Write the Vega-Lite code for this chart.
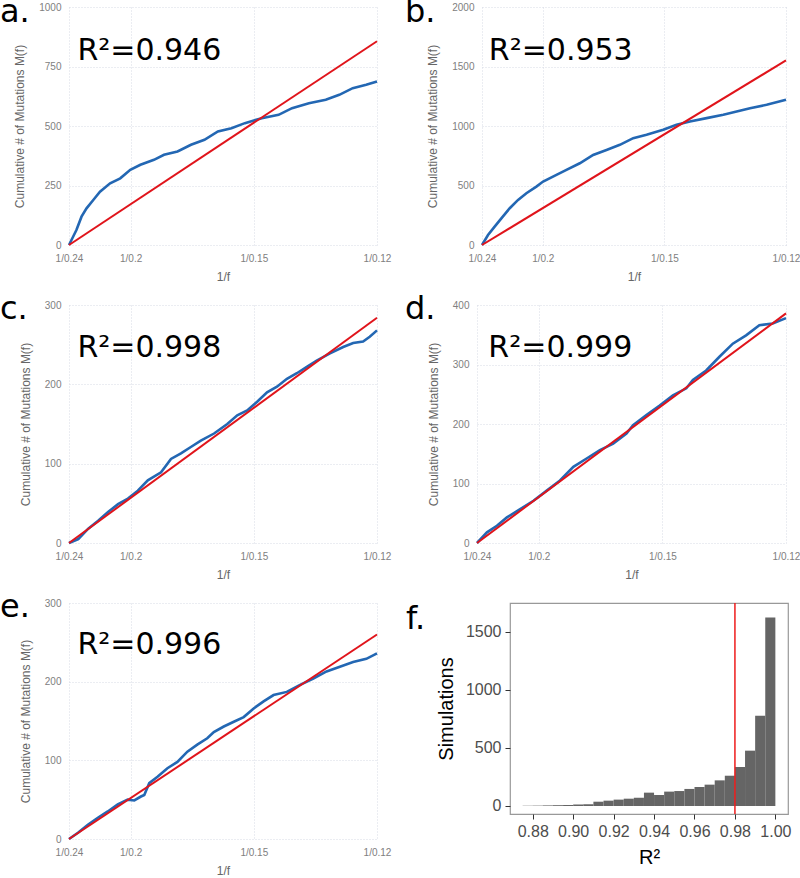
{
  "$schema": "https://vega.github.io/schema/vega-lite/v6.json",
  "padding": {"left": 0, "top": -4, "right": 0, "bottom": 0},
  "background": "white",
  "spacing": 11,
  "config": {
    "view": {"stroke": null},
    "axis": {
      "labelFont": "Liberation Sans", "labelFontSize": 10, "labelColor": "#808080",
      "titleFont": "Liberation Sans", "titleFontSize": 12, "titleColor": "#666666", "titleFontWeight": "normal",
      "domain": false, "ticks": false, "gridColor": "#d3d6e2", "gridDash": [1, 2], "gridWidth": 0.9,
      "labelPadding": 8, "titlePadding": 8, "labelFlush": false
    },
    "axisY": {"titlePadding": 12},
    "text": {"font": "DejaVu Sans", "fontSize": 30, "align": "left", "baseline": "alphabetic", "color": "black"},
    "title": {"font": "DejaVu Sans", "fontSize": 32, "fontWeight": "normal", "color": "black", "anchor": "start", "frame": "group", "baseline": "alphabetic"}
  },
  "datasets": {
    "a_obs": [
      {"inv_f": 4.1667, "mutations": 0}, {"inv_f": 4.267, "mutations": 63}, {"inv_f": 4.336, "mutations": 119},
      {"inv_f": 4.404, "mutations": 154}, {"inv_f": 4.495, "mutations": 189}, {"inv_f": 4.586, "mutations": 224},
      {"inv_f": 4.723, "mutations": 259}, {"inv_f": 4.860, "mutations": 280}, {"inv_f": 4.996, "mutations": 316},
      {"inv_f": 5.133, "mutations": 337}, {"inv_f": 5.316, "mutations": 358}, {"inv_f": 5.452, "mutations": 379},
      {"inv_f": 5.635, "mutations": 393}, {"inv_f": 5.817, "mutations": 421}, {"inv_f": 5.999, "mutations": 442},
      {"inv_f": 6.181, "mutations": 477}, {"inv_f": 6.364, "mutations": 491}, {"inv_f": 6.546, "mutations": 512},
      {"inv_f": 6.774, "mutations": 533}, {"inv_f": 7.002, "mutations": 547}, {"inv_f": 7.184, "mutations": 575},
      {"inv_f": 7.412, "mutations": 596}, {"inv_f": 7.640, "mutations": 610}, {"inv_f": 7.823, "mutations": 631},
      {"inv_f": 8.005, "mutations": 659}, {"inv_f": 8.187, "mutations": 673}, {"inv_f": 8.3333, "mutations": 687}
    ],
    "a_fit": [{"inv_f": 4.1667, "mutations": 0}, {"inv_f": 8.3333, "mutations": 856}],
    "b_obs": [
      {"inv_f": 4.1667, "mutations": 0}, {"inv_f": 4.249, "mutations": 84}, {"inv_f": 4.340, "mutations": 154},
      {"inv_f": 4.432, "mutations": 224}, {"inv_f": 4.547, "mutations": 309}, {"inv_f": 4.661, "mutations": 379},
      {"inv_f": 4.775, "mutations": 435}, {"inv_f": 4.912, "mutations": 491}, {"inv_f": 5.004, "mutations": 533},
      {"inv_f": 5.187, "mutations": 589}, {"inv_f": 5.324, "mutations": 631}, {"inv_f": 5.507, "mutations": 687},
      {"inv_f": 5.690, "mutations": 757}, {"inv_f": 5.873, "mutations": 799}, {"inv_f": 6.056, "mutations": 842},
      {"inv_f": 6.239, "mutations": 898}, {"inv_f": 6.422, "mutations": 926}, {"inv_f": 6.650, "mutations": 968},
      {"inv_f": 6.833, "mutations": 1010}, {"inv_f": 7.016, "mutations": 1038}, {"inv_f": 7.245, "mutations": 1066},
      {"inv_f": 7.474, "mutations": 1094}, {"inv_f": 7.657, "mutations": 1122}, {"inv_f": 7.840, "mutations": 1150},
      {"inv_f": 8.068, "mutations": 1178}, {"inv_f": 8.3333, "mutations": 1220}
    ],
    "b_fit": [{"inv_f": 4.1667, "mutations": 0}, {"inv_f": 8.3333, "mutations": 1551}],
    "c_obs": [
      {"inv_f": 4.1667, "mutations": 0}, {"inv_f": 4.292, "mutations": 5}, {"inv_f": 4.427, "mutations": 18},
      {"inv_f": 4.561, "mutations": 28}, {"inv_f": 4.695, "mutations": 39}, {"inv_f": 4.830, "mutations": 49},
      {"inv_f": 4.964, "mutations": 56}, {"inv_f": 5.098, "mutations": 66}, {"inv_f": 5.233, "mutations": 79},
      {"inv_f": 5.412, "mutations": 89}, {"inv_f": 5.546, "mutations": 106}, {"inv_f": 5.681, "mutations": 113},
      {"inv_f": 5.815, "mutations": 121}, {"inv_f": 5.950, "mutations": 129}, {"inv_f": 6.129, "mutations": 138},
      {"inv_f": 6.308, "mutations": 150}, {"inv_f": 6.443, "mutations": 161}, {"inv_f": 6.577, "mutations": 167},
      {"inv_f": 6.712, "mutations": 178}, {"inv_f": 6.846, "mutations": 190}, {"inv_f": 6.980, "mutations": 197},
      {"inv_f": 7.115, "mutations": 207}, {"inv_f": 7.249, "mutations": 214}, {"inv_f": 7.384, "mutations": 222},
      {"inv_f": 7.518, "mutations": 230}, {"inv_f": 7.697, "mutations": 239}, {"inv_f": 7.876, "mutations": 247},
      {"inv_f": 8.011, "mutations": 252}, {"inv_f": 8.145, "mutations": 254}, {"inv_f": 8.235, "mutations": 260},
      {"inv_f": 8.3333, "mutations": 268}
    ],
    "c_fit": [{"inv_f": 4.1667, "mutations": 0}, {"inv_f": 8.3333, "mutations": 284}],
    "d_obs": [
      {"inv_f": 4.1667, "mutations": 0}, {"inv_f": 4.301, "mutations": 18}, {"inv_f": 4.435, "mutations": 29},
      {"inv_f": 4.570, "mutations": 43}, {"inv_f": 4.749, "mutations": 57}, {"inv_f": 4.928, "mutations": 71},
      {"inv_f": 5.107, "mutations": 88}, {"inv_f": 5.286, "mutations": 105}, {"inv_f": 5.466, "mutations": 128},
      {"inv_f": 5.645, "mutations": 142}, {"inv_f": 5.824, "mutations": 156}, {"inv_f": 6.003, "mutations": 167},
      {"inv_f": 6.182, "mutations": 184}, {"inv_f": 6.271, "mutations": 198}, {"inv_f": 6.451, "mutations": 215},
      {"inv_f": 6.630, "mutations": 231}, {"inv_f": 6.809, "mutations": 248}, {"inv_f": 6.989, "mutations": 260},
      {"inv_f": 7.078, "mutations": 274}, {"inv_f": 7.257, "mutations": 290}, {"inv_f": 7.436, "mutations": 313},
      {"inv_f": 7.616, "mutations": 335}, {"inv_f": 7.795, "mutations": 349}, {"inv_f": 7.974, "mutations": 366},
      {"inv_f": 8.154, "mutations": 369}, {"inv_f": 8.3333, "mutations": 378}
    ],
    "d_fit": [{"inv_f": 4.1667, "mutations": 0}, {"inv_f": 8.3333, "mutations": 386}],
    "e_obs": [
      {"inv_f": 4.1667, "mutations": 0}, {"inv_f": 4.288, "mutations": 8}, {"inv_f": 4.422, "mutations": 18},
      {"inv_f": 4.557, "mutations": 27}, {"inv_f": 4.691, "mutations": 35}, {"inv_f": 4.826, "mutations": 44},
      {"inv_f": 4.960, "mutations": 50}, {"inv_f": 5.050, "mutations": 49}, {"inv_f": 5.140, "mutations": 54},
      {"inv_f": 5.185, "mutations": 56}, {"inv_f": 5.252, "mutations": 71}, {"inv_f": 5.364, "mutations": 79},
      {"inv_f": 5.498, "mutations": 90}, {"inv_f": 5.633, "mutations": 98}, {"inv_f": 5.768, "mutations": 111},
      {"inv_f": 5.902, "mutations": 120}, {"inv_f": 6.037, "mutations": 128}, {"inv_f": 6.126, "mutations": 136},
      {"inv_f": 6.261, "mutations": 143}, {"inv_f": 6.396, "mutations": 149}, {"inv_f": 6.530, "mutations": 155},
      {"inv_f": 6.665, "mutations": 166}, {"inv_f": 6.799, "mutations": 175}, {"inv_f": 6.934, "mutations": 183},
      {"inv_f": 7.113, "mutations": 187}, {"inv_f": 7.293, "mutations": 196}, {"inv_f": 7.472, "mutations": 204},
      {"inv_f": 7.651, "mutations": 213}, {"inv_f": 7.831, "mutations": 219}, {"inv_f": 8.010, "mutations": 225},
      {"inv_f": 8.189, "mutations": 229}, {"inv_f": 8.3333, "mutations": 236}
    ],
    "e_fit": [{"inv_f": 4.1667, "mutations": 0}, {"inv_f": 8.3333, "mutations": 260}],
    "hist": [
      {"bin_start": 0.875, "bin_end": 0.880, "count": 2}, {"bin_start": 0.880, "bin_end": 0.885, "count": 3},
      {"bin_start": 0.885, "bin_end": 0.890, "count": 5}, {"bin_start": 0.890, "bin_end": 0.895, "count": 7},
      {"bin_start": 0.895, "bin_end": 0.900, "count": 8}, {"bin_start": 0.900, "bin_end": 0.905, "count": 12},
      {"bin_start": 0.905, "bin_end": 0.910, "count": 15}, {"bin_start": 0.910, "bin_end": 0.915, "count": 37},
      {"bin_start": 0.915, "bin_end": 0.920, "count": 46}, {"bin_start": 0.920, "bin_end": 0.925, "count": 55},
      {"bin_start": 0.925, "bin_end": 0.930, "count": 63}, {"bin_start": 0.930, "bin_end": 0.935, "count": 72},
      {"bin_start": 0.935, "bin_end": 0.940, "count": 115}, {"bin_start": 0.940, "bin_end": 0.945, "count": 95},
      {"bin_start": 0.945, "bin_end": 0.950, "count": 124}, {"bin_start": 0.950, "bin_end": 0.955, "count": 129},
      {"bin_start": 0.955, "bin_end": 0.960, "count": 147}, {"bin_start": 0.960, "bin_end": 0.965, "count": 164},
      {"bin_start": 0.965, "bin_end": 0.970, "count": 184}, {"bin_start": 0.970, "bin_end": 0.975, "count": 221},
      {"bin_start": 0.975, "bin_end": 0.980, "count": 261}, {"bin_start": 0.980, "bin_end": 0.985, "count": 336},
      {"bin_start": 0.985, "bin_end": 0.990, "count": 477}, {"bin_start": 0.990, "bin_end": 0.995, "count": 779},
      {"bin_start": 0.995, "bin_end": 1.000, "count": 1626}
    ],
    "threshold": [{"r2": 0.98}]
  },
  "vconcat": [
    {
      "hconcat": [
        {
          "width": 308, "height": 238,
          "title": {"text": "a.", "dx": -69, "offset": -27},
          "layer": [
            {"data": {"name": "a_obs"}, "mark": {"type": "line", "color": "#2367b3", "strokeWidth": 2.6},
              "encoding": {
                "x": {"field": "inv_f", "type": "quantitative", "title": "1/f",
                  "scale": {"domain": [4.16667, 8.33333], "nice": false, "zero": false},
                  "axis": {"values": [4.16667, 5, 6.66667, 8.33333], "labelExpr": "datum.value < 4.5 ? '1/0.24' : datum.value < 5.5 ? '1/0.2' : datum.value < 7 ? '1/0.15' : '1/0.12'"}},
                "y": {"field": "mutations", "type": "quantitative", "title": "Cumulative # of Mutations M(f)",
                  "scale": {"domain": [0, 1000], "nice": false},
                  "axis": {"values": [0, 250, 500, 750, 1000], "format": "d"}}
              }},
            {"data": {"name": "a_fit"}, "mark": {"type": "line", "color": "#e0141b", "strokeWidth": 2},
              "encoding": {"x": {"field": "inv_f", "type": "quantitative"}, "y": {"field": "mutations", "type": "quantitative"}}},
            {"data": {"values": [{"label": "R²=0.946"}]},
              "mark": {"type": "text"},
              "encoding": {"x": {"datum": 4.28, "type": "quantitative"}, "y": {"datum": 777, "type": "quantitative"}, "text": {"field": "label", "type": "nominal"}}}
          ]
        },
        {
          "width": 304, "height": 238,
          "title": {"text": "b.", "dx": -77, "offset": -27},
          "layer": [
            {"data": {"name": "b_obs"}, "mark": {"type": "line", "color": "#2367b3", "strokeWidth": 2.6},
              "encoding": {
                "x": {"field": "inv_f", "type": "quantitative", "title": "1/f",
                  "scale": {"domain": [4.16667, 8.33333], "nice": false, "zero": false},
                  "axis": {"values": [4.16667, 5, 6.66667, 8.33333], "labelExpr": "datum.value < 4.5 ? '1/0.24' : datum.value < 5.5 ? '1/0.2' : datum.value < 7 ? '1/0.15' : '1/0.12'"}},
                "y": {"field": "mutations", "type": "quantitative", "title": "Cumulative # of Mutations M(f)",
                  "scale": {"domain": [0, 2000], "nice": false},
                  "axis": {"values": [0, 500, 1000, 1500, 2000], "format": "d"}}
              }},
            {"data": {"name": "b_fit"}, "mark": {"type": "line", "color": "#e0141b", "strokeWidth": 2},
              "encoding": {"x": {"field": "inv_f", "type": "quantitative"}, "y": {"field": "mutations", "type": "quantitative"}}},
            {"data": {"values": [{"label": "R²=0.953"}]},
              "mark": {"type": "text"},
              "encoding": {"x": {"datum": 4.26, "type": "quantitative"}, "y": {"datum": 1555, "type": "quantitative"}, "text": {"field": "label", "type": "nominal"}}}
          ]
        }
      ],
      "spacing": 105,
      "bounds": "flush"
    },
    {
      "hconcat": [
        {
          "width": 308, "height": 238,
          "title": {"text": "c.", "dx": -69, "offset": -26},
          "layer": [
            {"data": {"name": "c_obs"}, "mark": {"type": "line", "color": "#2367b3", "strokeWidth": 2.6},
              "encoding": {
                "x": {"field": "inv_f", "type": "quantitative", "title": "1/f",
                  "scale": {"domain": [4.16667, 8.33333], "nice": false, "zero": false},
                  "axis": {"values": [4.16667, 5, 6.66667, 8.33333], "labelExpr": "datum.value < 4.5 ? '1/0.24' : datum.value < 5.5 ? '1/0.2' : datum.value < 7 ? '1/0.15' : '1/0.12'"}},
                "y": {"field": "mutations", "type": "quantitative", "title": "Cumulative # of Mutations M(f)",
                  "scale": {"domain": [0, 300], "nice": false},
                  "axis": {"values": [0, 100, 200, 300], "format": "d"}}
              }},
            {"data": {"name": "c_fit"}, "mark": {"type": "line", "color": "#e0141b", "strokeWidth": 2},
              "encoding": {"x": {"field": "inv_f", "type": "quantitative"}, "y": {"field": "mutations", "type": "quantitative"}}},
            {"data": {"values": [{"label": "R²=0.998"}]},
              "mark": {"type": "text"},
              "encoding": {"x": {"datum": 4.28, "type": "quantitative"}, "y": {"datum": 234, "type": "quantitative"}, "text": {"field": "label", "type": "nominal"}}}
          ]
        },
        {
          "width": 309, "height": 238,
          "title": {"text": "d.", "dx": -72, "offset": -26},
          "layer": [
            {"data": {"name": "d_obs"}, "mark": {"type": "line", "color": "#2367b3", "strokeWidth": 2.6},
              "encoding": {
                "x": {"field": "inv_f", "type": "quantitative", "title": "1/f",
                  "scale": {"domain": [4.16667, 8.33333], "nice": false, "zero": false},
                  "axis": {"values": [4.16667, 5, 6.66667, 8.33333], "labelExpr": "datum.value < 4.5 ? '1/0.24' : datum.value < 5.5 ? '1/0.2' : datum.value < 7 ? '1/0.15' : '1/0.12'"}},
                "y": {"field": "mutations", "type": "quantitative", "title": "Cumulative # of Mutations M(f)",
                  "scale": {"domain": [0, 400], "nice": false},
                  "axis": {"values": [0, 100, 200, 300, 400], "format": "d"}}
              }},
            {"data": {"name": "d_fit"}, "mark": {"type": "line", "color": "#e0141b", "strokeWidth": 2},
              "encoding": {"x": {"field": "inv_f", "type": "quantitative"}, "y": {"field": "mutations", "type": "quantitative"}}},
            {"data": {"values": [{"label": "R²=0.999"}]},
              "mark": {"type": "text"},
              "encoding": {"x": {"datum": 4.32, "type": "quantitative"}, "y": {"datum": 312, "type": "quantitative"}, "text": {"field": "label", "type": "nominal"}}}
          ]
        }
      ],
      "spacing": 100,
      "bounds": "flush"
    },
    {
      "hconcat": [
        {
          "width": 308, "height": 236,
          "title": {"text": "e.", "dx": -69, "offset": -26},
          "layer": [
            {"data": {"name": "e_obs"}, "mark": {"type": "line", "color": "#2367b3", "strokeWidth": 2.6},
              "encoding": {
                "x": {"field": "inv_f", "type": "quantitative", "title": "1/f",
                  "scale": {"domain": [4.16667, 8.33333], "nice": false, "zero": false},
                  "axis": {"values": [4.16667, 5, 6.66667, 8.33333], "labelExpr": "datum.value < 4.5 ? '1/0.24' : datum.value < 5.5 ? '1/0.2' : datum.value < 7 ? '1/0.15' : '1/0.12'"}},
                "y": {"field": "mutations", "type": "quantitative", "title": "Cumulative # of Mutations M(f)",
                  "scale": {"domain": [0, 300], "nice": false},
                  "axis": {"values": [0, 100, 200, 300], "format": "d"}}
              }},
            {"data": {"name": "e_fit"}, "mark": {"type": "line", "color": "#e0141b", "strokeWidth": 2},
              "encoding": {"x": {"field": "inv_f", "type": "quantitative"}, "y": {"field": "mutations", "type": "quantitative"}}},
            {"data": {"values": [{"label": "R²=0.996"}]},
              "mark": {"type": "text"},
              "encoding": {"x": {"datum": 4.28, "type": "quantitative"}, "y": {"datum": 235, "type": "quantitative"}, "text": {"field": "label", "type": "nominal"}}}
          ]
        },
        {
          "width": 278, "height": 211,
          "view": {"stroke": "#999999", "strokeWidth": 1.2},
          "title": {"text": "f.", "dx": -104, "offset": -34},
          "layer": [
            {"data": {"name": "hist"}, "mark": {"type": "bar", "color": "#656565"},
              "encoding": {
                "x": {"field": "bin_start", "type": "quantitative", "title": "R²",
                  "scale": {"domain": [0.86875, 1.00625], "nice": false, "zero": false},
                  "axis": {"values": [0.88, 0.90, 0.92, 0.94, 0.96, 0.98, 1.00], "format": ".2f", "grid": false, "ticks": true, "tickColor": "#333333", "tickSize": 5, "labelPadding": 4, "labelFontSize": 16, "labelColor": "#4d4d4d", "titleFontSize": 20, "titleColor": "black", "titlePadding": 8}},
                "x2": {"field": "bin_end"},
                "y": {"field": "count", "type": "quantitative", "title": "Simulations",
                  "scale": {"domain": [-69, 1750], "nice": false, "zero": false},
                  "axis": {"values": [0, 500, 1000, 1500], "format": "d", "grid": false, "ticks": true, "tickColor": "#333333", "tickSize": 5, "labelPadding": 4, "labelFontSize": 16, "labelColor": "#4d4d4d", "titleFontSize": 20, "titleColor": "black", "titlePadding": 9}},
                "y2": {"datum": 0}
              }},
            {"data": {"name": "threshold"}, "mark": {"type": "rule", "color": "#ee1c1c", "strokeWidth": 1.5},
              "encoding": {"x": {"field": "r2", "type": "quantitative"}}}
          ]
        }
      ],
      "spacing": 133,
      "bounds": "flush"
    }
  ]
}
